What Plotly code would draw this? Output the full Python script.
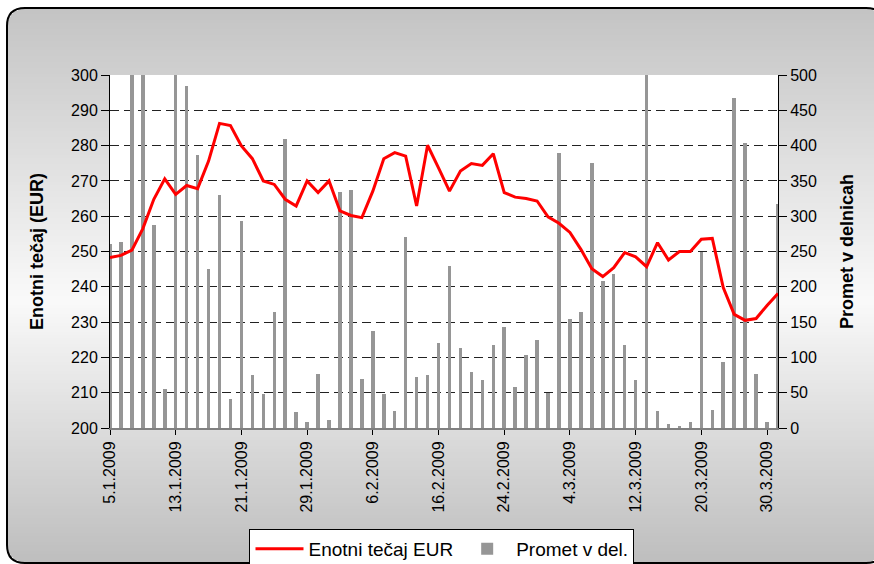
import math
import plotly.graph_objects as go

dates = [
    "5.1.2009", "6.1.2009", "7.1.2009", "8.1.2009", "9.1.2009",
    "12.1.2009", "13.1.2009", "14.1.2009", "15.1.2009", "16.1.2009",
    "19.1.2009", "20.1.2009", "21.1.2009", "22.1.2009", "23.1.2009",
    "26.1.2009", "27.1.2009", "28.1.2009", "29.1.2009", "30.1.2009",
    "2.2.2009", "3.2.2009", "4.2.2009", "5.2.2009", "6.2.2009",
    "9.2.2009", "10.2.2009", "11.2.2009", "12.2.2009", "13.2.2009",
    "16.2.2009", "17.2.2009", "18.2.2009", "19.2.2009", "20.2.2009",
    "23.2.2009", "24.2.2009", "25.2.2009", "26.2.2009", "27.2.2009",
    "2.3.2009", "3.3.2009", "4.3.2009", "5.3.2009", "6.3.2009",
    "9.3.2009", "10.3.2009", "11.3.2009", "12.3.2009", "13.3.2009",
    "16.3.2009", "17.3.2009", "18.3.2009", "19.3.2009", "20.3.2009",
    "23.3.2009", "24.3.2009", "25.3.2009", "26.3.2009", "27.3.2009",
    "30.3.2009", "31.3.2009",
]

price = [
    248.3, 248.9, 250.4, 256.5, 264.8, 270.6, 266.2, 268.7, 267.8, 275.6,
    286.3, 285.7, 279.9, 276.3, 270.0, 269.0, 264.8, 262.9, 270.0, 266.7,
    270.0, 261.5, 260.2, 259.6, 267.1, 276.3, 278.0, 277.0, 262.9, 280.1,
    273.7, 267.1, 272.8, 274.9, 274.4, 277.7, 266.7, 265.4, 265.0, 264.3,
    259.8, 258.0, 255.4, 250.6, 245.1, 242.9, 245.4, 249.7, 248.5, 245.7,
    252.5, 247.6, 250.0, 250.0, 253.5, 253.7, 239.8, 232.2, 230.5, 231.0,
    234.7, 238.1,
]

volume = [
    260, 263, 510, 510, 288, 55, 510, 484, 386, 225,
    330, 41, 293, 75, 48, 164, 410, 23, 9, 76,
    12, 334, 337, 69, 138, 48, 24, 271, 72, 75,
    121, 230, 113, 80, 68, 117, 143, 58, 103, 124,
    50, 389, 155, 164, 375, 208, 218, 118, 68, 510,
    24, 5, 3, 8, 250, 26, 93, 467, 403, 76,
    8, 317,
]

tick_dates = dates[::6]
price_ticks = list(range(200, 301, 10))
volume_ticks = list(range(0, 501, 50))

W, H = 874, 564
L, R, T, B = 110, 96, 75, 136
PW, PH = W - L - R, H - T - B


def px(x):
    return (x - L) / PW


def py(y):
    return (H - B - y) / PH


fig = go.Figure()
fig.add_trace(go.Bar(
    x=dates, y=volume, name="Promet v del.", yaxis="y",
    marker=dict(color="#969696", line=dict(width=0)), width=0.32,
))
fig.add_trace(go.Scatter(
    x=dates, y=price, name="Enotni tečaj EUR", yaxis="y2", mode="lines",
    line=dict(color="#ff0000", width=3),
))

# background gradient inside rounded frame
shapes = []
fx0, fy0, fx1, fy1, rad = 7, 8, 884, 563, 18


def grey(y):
    if y < 300:
        v = 196 + (250 - 196) * (y - fy0) / (300 - fy0)
    else:
        v = 250 + (190 - 250) * (y - 300) / (fy1 - 300)
    v = int(max(0, min(255, v)))
    return f"rgb({v},{v},{v})"


step = 3
y = fy0
while y < fy1:
    ya, yb = y, min(y + step, fy1)
    mid = (ya + yb) / 2
    d = min(mid - fy0, fy1 - mid)
    inset = 0
    if d < rad:
        inset = rad - math.sqrt(max(0, rad ** 2 - (rad - d) ** 2))
    shapes.append(dict(
        type="rect", xref="paper", yref="paper", layer="below",
        x0=px(fx0 + inset), x1=px(fx1 - inset), y0=py(yb), y1=py(ya),
        fillcolor=grey(mid), line=dict(width=0),
    ))
    y += step

shapes.append(dict(
    type="rect", xref="paper", yref="paper", layer="below",
    x0=0, x1=1, y0=0, y1=1, fillcolor="white", line=dict(width=0),
))


def P(x, y):
    return f"{px(x)},{py(y)}"


path = (
    f"M {P(fx0 + rad, fy0)} L {P(fx1 - rad, fy0)} Q {P(fx1, fy0)} {P(fx1, fy0 + rad)} "
    f"L {P(fx1, fy1 - rad)} Q {P(fx1, fy1)} {P(fx1 - rad, fy1)} "
    f"L {P(fx0 + rad, fy1)} Q {P(fx0, fy1)} {P(fx0, fy1 - rad)} "
    f"L {P(fx0, fy0 + rad)} Q {P(fx0, fy0)} {P(fx0 + rad, fy0)} Z"
)
shapes.append(dict(
    type="path", xref="paper", yref="paper", layer="above", path=path,
    line=dict(color="black", width=2), fillcolor="rgba(0,0,0,0)",
))

fig.update_layout(
    width=W, height=H,
    margin=dict(l=L, r=R, t=T, b=B, autoexpand=False),
    paper_bgcolor="white", plot_bgcolor="white",
    font=dict(family="Liberation Sans, Arial, sans-serif", color="black", size=16),
    showlegend=True,
    bargap=0,
    shapes=shapes,
    xaxis=dict(
        type="category", range=[0, 61],
        tickmode="array", tickvals=tick_dates, ticktext=tick_dates,
        tickangle=-90, ticks="outside", ticklen=5, tickcolor="black",
        showline=True, linecolor="#808080", linewidth=2,
        showgrid=False, tickfont=dict(size=16),
    ),
    yaxis=dict(
        side="right", range=[0, 500], tickmode="array", tickvals=volume_ticks,
        ticks="outside", ticklen=8, tickcolor="black",
        showline=True, linecolor="black", linewidth=1,
        showgrid=True, gridcolor="#222222", gridwidth=1, griddash="9px,5px",
        zeroline=False, tickfont=dict(size=16),
        title=dict(text="<b>Promet v delnicah</b>", font=dict(size=18), standoff=24),
    ),
    yaxis2=dict(
        overlaying="y", side="left", range=[200, 300], tickmode="array",
        tickvals=price_ticks, ticks="outside", ticklen=8, tickcolor="black",
        showline=True, linecolor="black", linewidth=1,
        showgrid=False, zeroline=False, tickfont=dict(size=16),
        title=dict(text="<b>Enotni tečaj (EUR)</b>", font=dict(size=18), standoff=22),
    ),
    legend=dict(
        orientation="h", x=0.497, xanchor="center", y=py(529), yanchor="top",
        bgcolor="white", bordercolor="black", borderwidth=1,
        font=dict(size=19), traceorder="reversed", itemwidth=48,
    ),
)

fig.write_html(
    "out.html",
    config={"displayModeBar": False},
    post_script="document.body.style.margin='0';document.body.style.overflow='hidden';"
    "document.documentElement.style.overflow='hidden';",
)
